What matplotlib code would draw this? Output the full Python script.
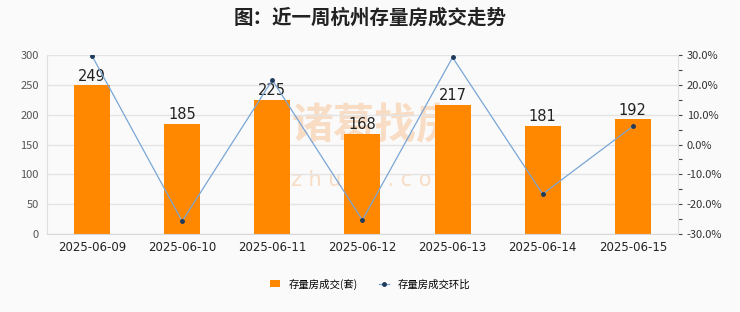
import numpy as np
import matplotlib.pyplot as plt
from matplotlib.ticker import FuncFormatter, MultipleLocator

plt.rcParams['font.family'] = ['Noto Sans CJK SC', 'DejaVu Sans']

dates = ['2025-06-09', '2025-06-10', '2025-06-11', '2025-06-12',
         '2025-06-13', '2025-06-14', '2025-06-15']
deals = [249, 185, 225, 168, 217, 181, 192]
change = [29.7, -25.7, 21.6, -25.3, 29.2, -16.6, 6.1]

fig = plt.figure(figsize=(7.4, 3.12), dpi=100)
fig.patch.set_facecolor('#fafafa')
ax = fig.add_axes([0.0635, 0.25, 0.8525, 0.5737])
ax.set_facecolor('#fafafa')

# watermark, under the bars
ax.text(0.52, 0.6, '诸葛找房', transform=ax.transAxes, fontsize=30,
        color='#f8dcc4', ha='center', va='center', fontweight='bold', zorder=1)
ax.text(0.52, 0.3, 'z h u g e . c o m', transform=ax.transAxes, fontsize=15,
        color='#f8dcc4', ha='center', va='center', family='DejaVu Sans', zorder=1)

x = np.arange(len(dates))
ax.bar(x, deals, width=0.4, color='#ff8800', zorder=2, label='存量房成交(套)')
for xi, v in zip(x, deals):
    ax.text(xi, v + 3, str(v), ha='center', va='bottom', fontsize=10.5,
            color='#222222', family='DejaVu Sans', zorder=4)

ax.set_xlim(-0.5, 6.5)
ax.set_ylim(0, 300)
ax.set_yticks(range(0, 301, 50))
ax.set_xticks(x)
ax.set_xticklabels(dates, fontsize=8.5, color='#222222', family='DejaVu Sans')
ax.tick_params(axis='y', labelsize=8, colors='#555555', length=0, pad=6)
ax.tick_params(axis='x', length=0, pad=5)
ax.grid(axis='y', color='#e4e4e4', linewidth=1, zorder=0)
for s in ['top', 'right']:
    ax.spines[s].set_visible(False)
ax.spines['left'].set_color('#e0e0e0')
ax.spines['bottom'].set_color('#d8d8d8')

ax2 = ax.twinx()
ax2.plot(x, change, color='#7aa6d6', linewidth=0.9, marker='o', markersize=2.5,
         markerfacecolor='#1f3b5c', markeredgecolor='#1f3b5c', zorder=3,
         label='存量房成交环比')
ax2.set_ylim(-30, 30)
ax2.yaxis.set_major_locator(MultipleLocator(10))
ax2.yaxis.set_minor_locator(MultipleLocator(5))
ax2.yaxis.set_major_formatter(FuncFormatter(lambda v, p: '%.1f%%' % v))
ax2.tick_params(axis='y', which='both', labelsize=8, colors='#333333', length=3, width=0.8)
ax2.tick_params(axis='y', which='both', color='#444444')
for s in ['top', 'left', 'bottom']:
    ax2.spines[s].set_visible(False)
ax2.spines['right'].set_color('#e0e0e0')

fig.suptitle('图：近一周杭州存量房成交走势', fontsize=14, fontweight='bold',
             color='#222222', y=0.975)

h1, l1 = ax.get_legend_handles_labels()
h2, l2 = ax2.get_legend_handles_labels()
fig.legend(h1 + h2, l1 + l2, loc='center', bbox_to_anchor=(0.5, 0.09), ncol=2,
           frameon=False, fontsize=7.5, handlelength=1.0, handleheight=0.7,
           columnspacing=2.0)

fig.savefig('out.png', dpi=100, facecolor=fig.get_facecolor())
